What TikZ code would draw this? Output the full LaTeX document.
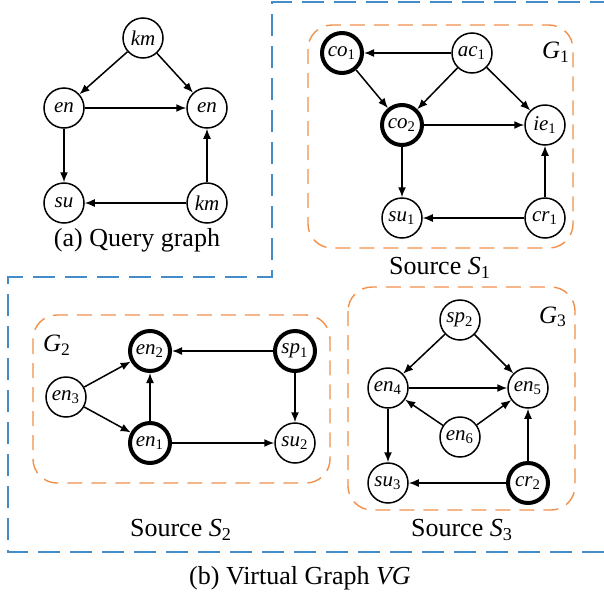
\documentclass[tikz,border=0pt]{standalone}
\usepackage{fontspec}
\setmainfont{Liberation Serif}
\usetikzlibrary{arrows.meta}
\definecolor{vgblue}{RGB}{70,140,200}
\definecolor{srcorange}{RGB}{240,145,75}
\newcommand{\vx}[2]{\textit{#1}\textsubscript{#2}}
\tikzset{
    vertex/.style = {
        draw, circle,
        line width=0.75pt,
        minimum size=20pt,
        inner sep=0pt,
        font=\fontsize{10.5}{12}\selectfont,
        },
    matched/.style = {
        line width=2pt,
        },
    src box/.style = {
        draw=srcorange,
        line width=0.7pt,
        dash pattern=on 7.5pt off 4.5pt,
        rounded corners=12pt,
        },
    vg border/.style = {
        draw=vgblue,
        line width=0.9pt,
        dash pattern=on 11pt off 5pt,
        },
    caption/.style = {
        font=\fontsize{13}{15}\selectfont,
        },
    glabel/.style = {
        font=\fontsize{12.5}{14}\selectfont,
        },
    link/.style = {
        line width=0.75pt,
        -{Latex[length=5pt,width=4pt]},
        },
}
\begin{document}
\begin{tikzpicture}[x=0.5pt,y=-0.5pt]
            \useasboundingbox (0,0) rectangle (604,595);

            % query graph
            \node[vertex] (qkm1) at (143,38) {\textit{km}};
            \node[vertex] (qen1) at (64,108) {\textit{en}};
            \node[vertex] (qen2) at (207,108) {\textit{en}};
            \node[vertex] (qsu) at (64,203) {\textit{su}};
            \node[vertex] (qkm2) at (207,203) {\textit{km}};
            \node[caption] (qcap) at (137,240) {(a) Query graph};

            \path[link] (qkm1) edge (qen1);
            \path[link] (qkm1) edge (qen2);
            \path[link] (qen1) edge (qen2);
            \path[link] (qen1) edge (qsu);
            \path[link] (qkm2) edge (qsu);
            \path[link] (qkm2) edge (qen2);

            % virtual graph border
            \draw[vg border] (612,2) -- (272,2) -- (272,277) -- (8,277) -- (8,552) -- (612,552);

            % source S1
            \draw[src box] (308,25) rectangle (573,248);
            \node[glabel] (g1) at (556,52) {\textit{G}\textsubscript{1}};
            \node[vertex, matched] (co1) at (342,53) {\vx{co}{1}};
            \node[vertex] (ac1) at (472,53) {\vx{ac}{1}};
            \node[vertex, matched] (co2) at (402,125) {\vx{co}{2}};
            \node[vertex] (ie1) at (545,125) {\vx{ie}{1}};
            \node[vertex] (su1) at (402,218) {\vx{su}{1}};
            \node[vertex] (cr1) at (545,218) {\vx{cr}{1}};
            \node[caption] (s1) at (440,268) {Source \textit{S}\textsubscript{1}};

            \path[link] (ac1) edge (co1);
            \path[link] (co1) edge (co2);
            \path[link] (ac1) edge (co2);
            \path[link] (ac1) edge (ie1);
            \path[link] (co2) edge (ie1);
            \path[link] (co2) edge (su1);
            \path[link] (cr1) edge (su1);
            \path[link] (cr1) edge (ie1);

            % source S2
            \draw[src box] (33,315) rectangle (330,483);
            \node[glabel] (g2) at (57,345) {\textit{G}\textsubscript{2}};
            \node[vertex, matched] (en2) at (150,351) {\vx{en}{2}};
            \node[vertex, matched] (sp1) at (295,351) {\vx{sp}{1}};
            \node[vertex] (en3) at (66,397) {\vx{en}{3}};
            \node[vertex, matched] (en1) at (150,443) {\vx{en}{1}};
            \node[vertex] (su2) at (295,443) {\vx{su}{2}};
            \node[caption] (s2) at (181,530) {Source \textit{S}\textsubscript{2}};

            \path[link] (sp1) edge (en2);
            \path[link] (en3) edge (en2);
            \path[link] (en3) edge (en1);
            \path[link] (en1) edge (en2);
            \path[link] (en1) edge (su2);
            \path[link] (sp1) edge (su2);

            % source S3
            \draw[src box] (348,287) rectangle (575,510);
            \node[glabel] (g3) at (553,317) {\textit{G}\textsubscript{3}};
            \node[vertex] (sp2) at (460,320) {\vx{sp}{2}};
            \node[vertex] (en4) at (388,388) {\vx{en}{4}};
            \node[vertex] (en5) at (528,388) {\vx{en}{5}};
            \node[vertex] (en6) at (460,437) {\vx{en}{6}};
            \node[vertex] (su3) at (388,483) {\vx{su}{3}};
            \node[vertex, matched] (cr2) at (528,483) {\vx{cr}{2}};
            \node[caption] (s3) at (462,530) {Source \textit{S}\textsubscript{3}};

            \path[link] (sp2) edge (en4);
            \path[link] (sp2) edge (en5);
            \path[link] (en4) edge (en5);
            \path[link] (en6) edge (en4);
            \path[link] (en6) edge (en5);
            \path[link] (en4) edge (su3);
            \path[link] (cr2) edge (su3);
            \path[link] (cr2) edge (en5);

            \node[caption] (vg) at (300,578) {(b) Virtual Graph \textit{VG}};
        \end{tikzpicture}
\end{document}
